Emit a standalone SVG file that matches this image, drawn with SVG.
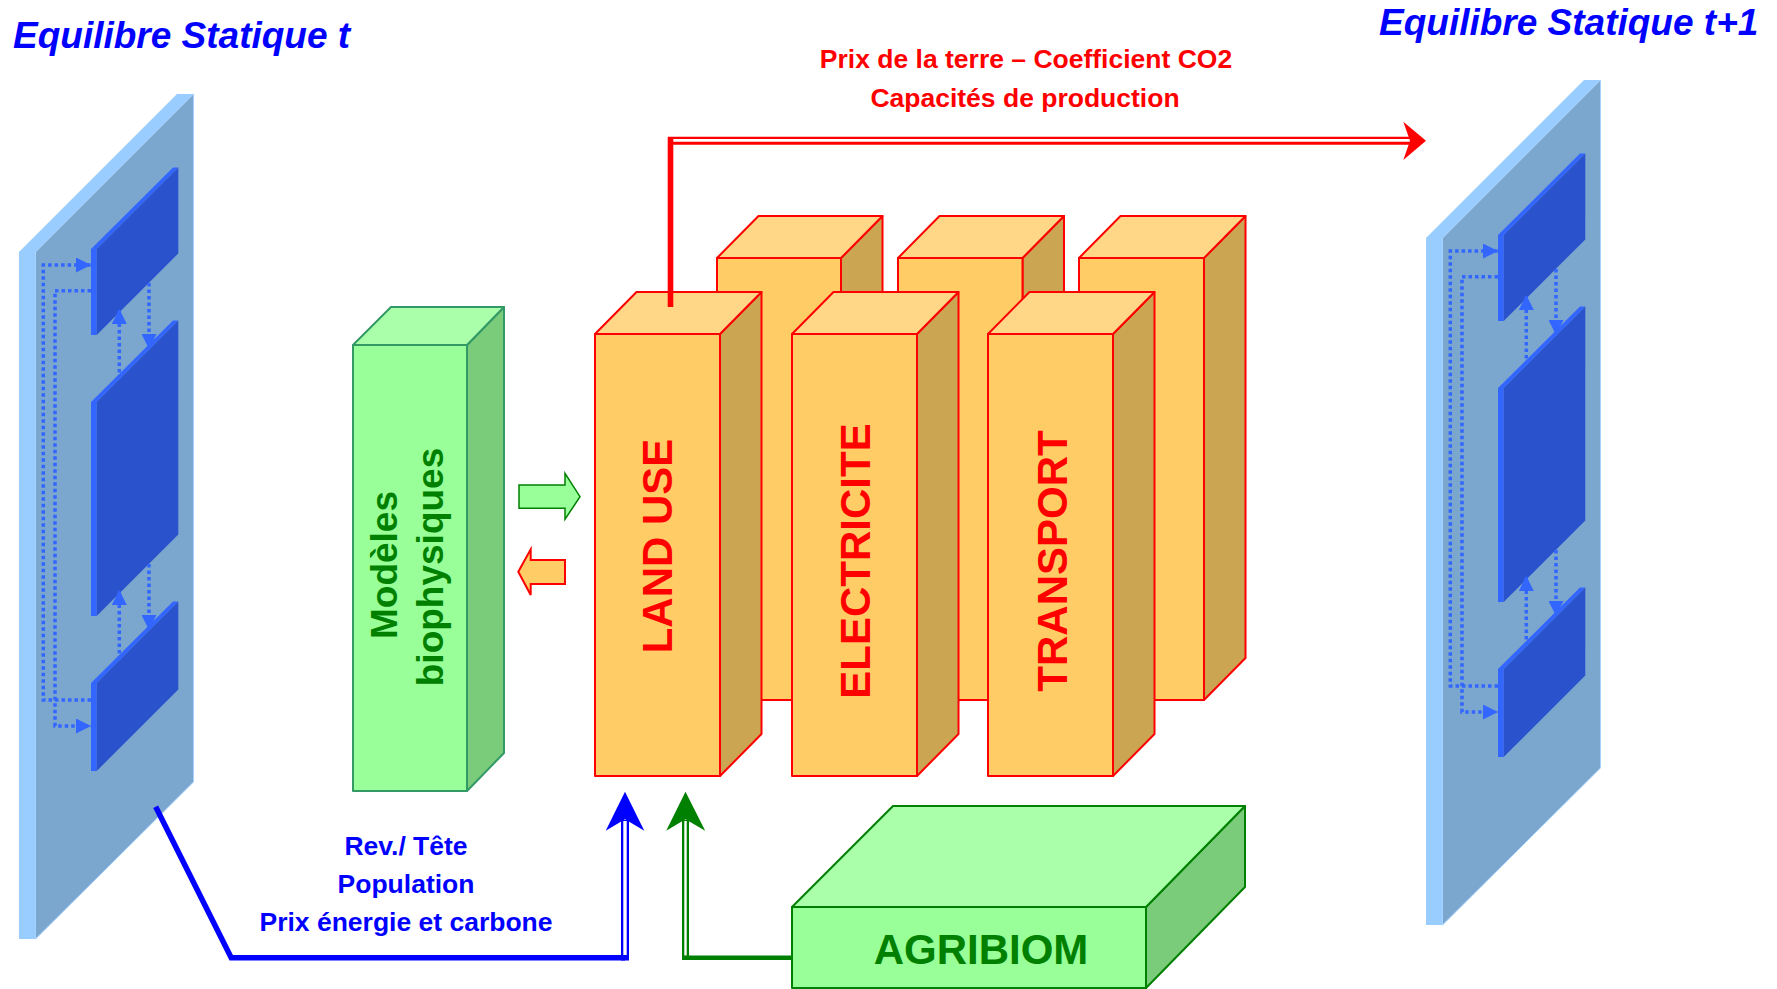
<svg xmlns="http://www.w3.org/2000/svg" xmlns:xlink="http://www.w3.org/1999/xlink" width="1777" height="989" viewBox="0 0 1777 989">
<style>
.title{font-family:"Liberation Sans",Arial,sans-serif;font-weight:bold;font-style:italic;font-size:37px;fill:#0000ff}
.lbl{font-family:"Liberation Sans",Arial,sans-serif;font-weight:bold;font-size:26.5px;text-anchor:middle}
.red{fill:#ff0000}
.blue{fill:#0000ff}
.big{font-family:"Liberation Sans",Arial,sans-serif;font-weight:bold;font-size:42px;text-anchor:middle}
.gtext{font-family:"Liberation Sans",Arial,sans-serif;font-weight:bold;font-size:37px;text-anchor:middle;fill:#008000}
.pslab{fill:#99ccff}
.pfront{fill:#7ba7cf;stroke:#a6d2ff;stroke-width:1}
.bfront{fill:#2952cc}
.bedge{fill:#3366ff}
.dot{fill:none;stroke:#3366ff;stroke-width:3.5;stroke-dasharray:3.5 3}
.ofront{fill:#ffcc66;stroke:#ff0000;stroke-width:2;stroke-linejoin:round}
.otop{fill:#ffd787;stroke:#ff0000;stroke-width:2;stroke-linejoin:round}
.oside{fill:#cca552;stroke:#ff0000;stroke-width:2;stroke-linejoin:round}
.gfront{fill:#99ff99;stroke:#339966;stroke-width:2;stroke-linejoin:round}
.gtop{fill:#aaffaa;stroke:#339966;stroke-width:2;stroke-linejoin:round}
.gside{fill:#7acc7a;stroke:#339966;stroke-width:2;stroke-linejoin:round}
.afront{fill:#99ff99;stroke:#008000;stroke-width:2;stroke-linejoin:round}
.atop{fill:#aaffaa;stroke:#008000;stroke-width:2;stroke-linejoin:round}
.aside{fill:#7acc7a;stroke:#008000;stroke-width:2;stroke-linejoin:round}
</style>
<defs>
<marker id="mDot" viewBox="0 0 15 15" refX="15" refY="7.5" markerWidth="15" markerHeight="15" markerUnits="userSpaceOnUse" orient="auto">
<path d="M0,0 L15,7.5 L0,15 z" fill="#3366ff"/>
</marker>
<g id="panel">
<polygon class="pslab" points="19,252 35.5,252 35.5,939 19,939"/>
<polygon class="pslab" points="19,252 177,94 193.5,94 35.5,252"/>
<polygon class="pfront" points="35.5,252 193.5,94 193.5,782 35.5,939"/>
<polygon class="bedge" points="91,249 96.7,249 96.7,335 91,335"/>
<polygon class="bedge" points="91,249 173,167.4 178.3,167.4 96.7,249"/>
<polygon class="bfront" points="96.7,249 178.3,167.4 178.3,253.4 96.7,335"/>
<polygon class="bedge" points="91,402 96.7,402 96.7,616 91,616"/>
<polygon class="bedge" points="91,402 173,320.4 178.3,320.4 96.7,402"/>
<polygon class="bfront" points="96.7,402 178.3,320.4 178.3,534.4 96.7,616"/>
<polygon class="bedge" points="91,683 96.7,683 96.7,771 91,771"/>
<polygon class="bedge" points="91,683 173,601.4 178.3,601.4 96.7,683"/>
<polygon class="bfront" points="96.7,683 178.3,601.4 178.3,689.4 96.7,771"/>
<path class="dot" d="M91,700 H43.3 V265 H91" marker-end="url(#mDot)"/>
<path class="dot" d="M91,290.7 H55 V726 H91" marker-end="url(#mDot)"/>
<path class="dot" d="M149,283 V349" marker-end="url(#mDot)"/>
<path class="dot" d="M119.3,379 V309" marker-end="url(#mDot)"/>
<path class="dot" d="M149,564 V630" marker-end="url(#mDot)"/>
<path class="dot" d="M119.3,660 V590" marker-end="url(#mDot)"/>
</g>
</defs>

<g id="equilibre-t">
<use xlink:href="#panel" href="#panel"/>
<text class="title" x="13" y="48">Equilibre Statique t</text>
</g>

<g id="equilibre-t1">
<use xlink:href="#panel" href="#panel" transform="translate(1407,-14)"/>
<text class="title" x="1379" y="35">Equilibre Statique t+1</text>
</g>

<g id="modeles-biophysiques">
<polygon class="gside" points="467,345 504,307 504,753 467,791"/>
<polygon class="gtop" points="353,345 391,307 504,307 467,345"/>
<polygon class="gfront" points="353,345 467,345 467,791 353,791"/>
<text class="gtext" transform="translate(396.5,565) rotate(-90)">Modèles</text>
<text class="gtext" transform="translate(443,567) rotate(-90)">biophysiques</text>
</g>

<g id="secteur-back-1">
<polygon class="oside" points="841,258 882.5,216 882.5,658 841,700"/>
<polygon class="otop" points="717,258 758.5,216 882.5,216 841,258"/>
<polygon class="ofront" points="717,258 841,258 841,700 717,700"/>
</g>
<g id="secteur-back-2">
<polygon class="oside" points="1022.5,258 1064,216 1064,658 1022.5,700"/>
<polygon class="otop" points="898,258 939.5,216 1064,216 1022.5,258"/>
<polygon class="ofront" points="898,258 1022.5,258 1022.5,700 898,700"/>
</g>
<g id="secteur-back-3">
<polygon class="oside" points="1204,258 1245.5,216 1245.5,658 1204,700"/>
<polygon class="otop" points="1079,258 1120.5,216 1245.5,216 1204,258"/>
<polygon class="ofront" points="1079,258 1204,258 1204,700 1079,700"/>
</g>

<g id="land-use">
<polygon class="oside" points="720,334 761.5,292 761.5,734 720,776"/>
<polygon class="otop" points="595,334 636.5,292 761.5,292 720,334"/>
<polygon class="ofront" points="595,334 720,334 720,776 595,776"/>
<text class="big red" transform="translate(672,546) rotate(-90)">LAND USE</text>
</g>
<g id="electricite">
<polygon class="oside" points="917,334 958.5,292 958.5,734 917,776"/>
<polygon class="otop" points="792,334 833.5,292 958.5,292 917,334"/>
<polygon class="ofront" points="792,334 917,334 917,776 792,776"/>
<text class="big red" transform="translate(870,561) rotate(-90)">ELECTRICITE</text>
</g>
<g id="transport">
<polygon class="oside" points="1113,334 1154.5,292 1154.5,734 1113,776"/>
<polygon class="otop" points="988,334 1029.5,292 1154.5,292 1113,334"/>
<polygon class="ofront" points="988,334 1113,334 1113,776 988,776"/>
<text class="big red" transform="translate(1067,561) rotate(-90)">TRANSPORT</text>
</g>

<g id="agribiom">
<polygon class="aside" points="1146,907 1245,806 1245,887 1146,988"/>
<polygon class="atop" points="792,907 893,806 1245,806 1146,907"/>
<polygon class="afront" points="792,907 1146,907 1146,988 792,988"/>
<text class="big" x="981" y="964" fill="#008000">AGRIBIOM</text>
</g>

<g id="connectors">
<polygon points="519,485 565,485 565,473.3 580,496.7 565,519.3 565,508.3 519,508.3" fill="#99ff99" stroke="#008000" stroke-width="1.5" stroke-linejoin="miter"/>
<polygon points="518.3,571.7 530.7,549.3 530.7,560 565,560 565,584 530.7,584 530.7,595" fill="#ffcc66" stroke="#ff0000" stroke-width="2" stroke-linejoin="miter"/>
<line x1="670.5" y1="307" x2="670.5" y2="137" stroke="#ff0000" stroke-width="5.6"/>
<line x1="668" y1="140.7" x2="1412" y2="140.7" stroke="#ff0000" stroke-width="8"/>
<line x1="673.3" y1="140.4" x2="1411" y2="140.4" stroke="#ffffff" stroke-width="2.7"/>
<polygon points="1426,140.7 1403.3,121.7 1410,140.7 1403.3,160" fill="#ff0000"/>
<polyline points="155.7,806.7 231.2,957.7 625,957.7" fill="none" stroke="#0000ff" stroke-width="5.5" stroke-linejoin="miter"/>
<line x1="625" y1="960.5" x2="625" y2="820" stroke="#0000ff" stroke-width="8"/>
<line x1="625" y1="955" x2="625" y2="821" stroke="#ffffff" stroke-width="3.4"/>
<polygon points="625,791.7 644.3,830.7 625,819.3 605.7,830.7" fill="#0000ff"/>
<line x1="685.5" y1="957.7" x2="792" y2="957.7" stroke="#008000" stroke-width="4.5"/>
<line x1="685.5" y1="960" x2="685.5" y2="820" stroke="#008000" stroke-width="7"/>
<line x1="685.5" y1="955.4" x2="685.5" y2="821" stroke="#ffffff" stroke-width="2.4"/>
<polygon points="685.5,791.7 705.2,830.7 685.5,819.3 666.2,830.7" fill="#008000"/>
</g>

<g id="labels">
<text class="lbl red" x="1026" y="68.3">Prix de la terre – Coefficient CO2</text>
<text class="lbl red" x="1025" y="106.7">Capacités de production</text>
<text class="lbl blue" x="406" y="855">Rev./ Tête</text>
<text class="lbl blue" x="406" y="892.5">Population</text>
<text class="lbl blue" x="406" y="930.5">Prix énergie et carbone</text>
</g>
</svg>
